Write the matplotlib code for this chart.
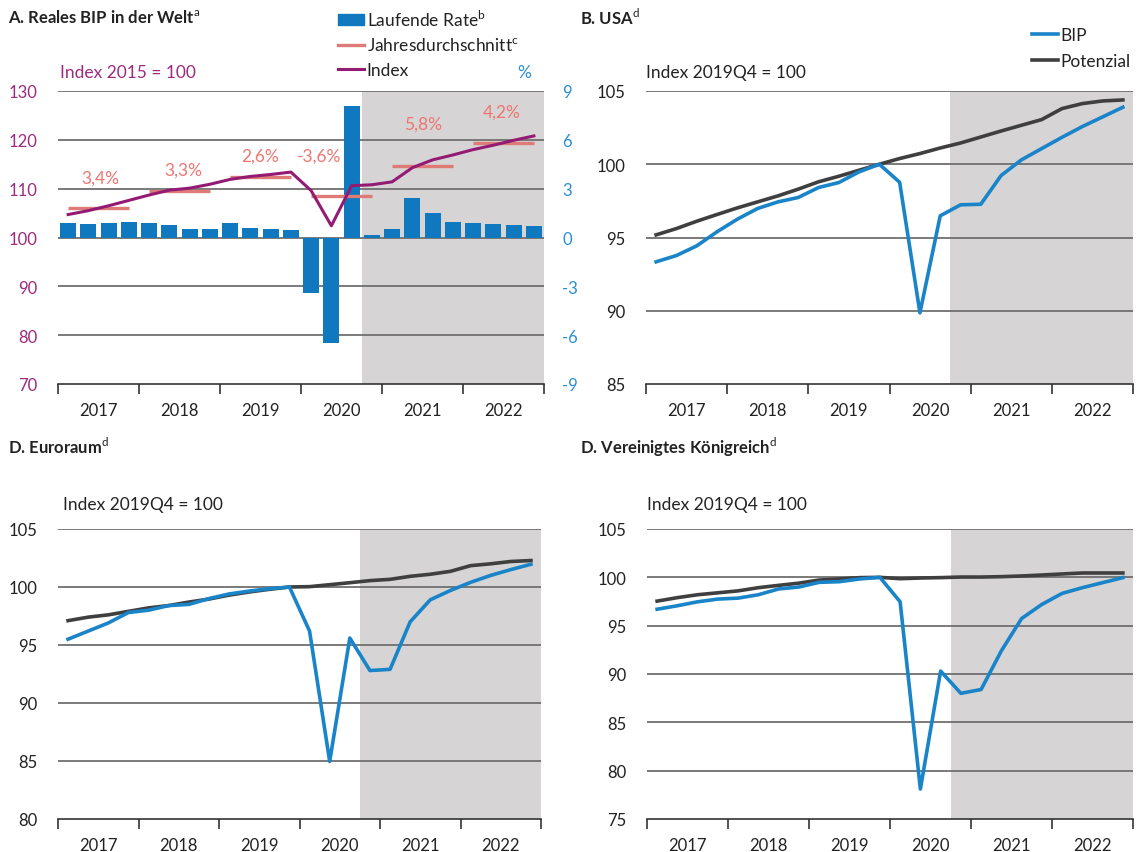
import numpy as np
import matplotlib.pyplot as plt
from matplotlib.patches import Patch
from matplotlib.lines import Line2D

plt.rcParams['font.family'] = ['Lato', 'DejaVu Sans']
plt.rcParams['font.size'] = 12
plt.rcParams['axes.unicode_minus'] = False
plt.rcParams['mathtext.fontset'] = 'custom'
plt.rcParams['mathtext.rm'] = 'Lato'

# quarters 2017Q1 .. 2022Q4
years = ['2017', '2018', '2019', '2020', '2021', '2022']
q = np.arange(24)

# A. world GDP
welt_rate = [0.88, 0.82, 0.88, 0.94, 0.88, 0.76, 0.51, 0.51, 0.88, 0.57, 0.51, 0.45,
             -3.4, -6.5, 8.1, 0.16, 0.51, 2.41, 1.49, 0.94, 0.88, 0.82, 0.76, 0.69]
welt_index = [104.7, 105.5, 106.5, 107.6, 108.7, 109.7, 110.1, 110.9, 111.9, 112.5, 112.9, 113.4,
              109.6, 102.4, 110.6, 110.8, 111.4, 114.3, 115.9, 116.9, 118.0, 118.9, 119.9, 120.8]
welt_avg = [106.1, 109.5, 112.4, 108.4, 114.7, 119.4]
welt_avg_labels = ['3,4%', '3,3%', '2,6%', '-3,6%', '5,8%', '4,2%']

# B. USA
usa_bip = [93.34, 93.77, 94.43, 95.39, 96.25, 96.98, 97.43, 97.73, 98.41, 98.75, 99.48, 100.0,
           98.77, 89.86, 96.48, 97.23, 97.27, 99.23, 100.3, 101.07, 101.84, 102.57, 103.23, 103.89]
usa_pot = [95.18, 95.61, 96.11, 96.57, 97.02, 97.43, 97.84, 98.30, 98.80, 99.18, 99.59, 100.0,
           100.39, 100.73, 101.11, 101.45, 101.86, 102.27, 102.66, 103.05, 103.80, 104.14, 104.32, 104.39]

# C. euro area
eur_bip = [95.5, 96.2, 96.9, 97.8, 98.0, 98.4, 98.5, 99.0, 99.4, 99.65, 99.85, 100.0,
           96.2, 84.96, 95.6, 92.8, 92.9, 97.0, 98.9, 99.7, 100.4, 101.0, 101.5, 101.96]
eur_pot = [97.1, 97.4, 97.6, 97.9, 98.2, 98.4, 98.7, 98.96, 99.3, 99.57, 99.8, 100.0,
           100.03, 100.2, 100.37, 100.55, 100.66, 100.92, 101.1, 101.35, 101.84, 102.0, 102.2, 102.28]

# D. United Kingdom
uk_bip = [96.7, 97.06, 97.47, 97.75, 97.85, 98.2, 98.8, 99.0, 99.48, 99.55, 99.83, 100.0,
          97.47, 78.1, 90.3, 88.0, 88.4, 92.4, 95.74, 97.2, 98.34, 98.93, 99.45, 99.97]
uk_pot = [97.54, 97.9, 98.2, 98.4, 98.6, 98.93, 99.17, 99.4, 99.72, 99.83, 99.97, 100.0,
          99.86, 99.93, 99.97, 100.03, 100.03, 100.07, 100.14, 100.24, 100.35, 100.45, 100.45, 100.45]

BLUE_BAR = '#0F78BF'
BLUE = '#1A84C9'
GREY = '#3F3F40'
PURPLE = '#931B73'
SALMON = '#DE7B77'
SALMON_TXT = '#EE7672'
SHADE = '#D6D4D5'
GRID = '#707070'
W, H = 1148, 853


def base_axes(ax, ylim, yticks):
    ax.set_xlim(-0.5, 23.5)
    ax.set_ylim(*ylim)
    ax.set_yticks(yticks)
    for s in ['top', 'right', 'left']:
        ax.spines[s].set_visible(False)
    ax.spines['bottom'].set_color('#333333')
    ax.spines['bottom'].set_linewidth(1.2)
    ax.set_xticks(np.arange(-0.5, 24, 4))
    ax.set_xticklabels([])
    ax.set_xticks(np.arange(1.5, 24, 4), minor=True)
    ax.set_xticklabels(years, minor=True)
    ax.tick_params(axis='x', which='major', length=7, width=1.2, color='#333333', direction='out')
    ax.tick_params(axis='x', which='minor', length=0, pad=13, labelsize=12, labelcolor='#222222')
    ax.tick_params(axis='y', length=0, pad=15, labelsize=12, labelcolor='#222222')


def grid_and_shade(ax, yticks):
    ax.axvspan(14.5, 23.5, color=SHADE, zorder=0, lw=0)
    for y in yticks[1:]:
        ax.axhline(y, color=GRID, lw=1.3, zorder=1)


fig = plt.figure(figsize=(W / 100, H / 100), dpi=100)

# ---------------- A ----------------
axA = fig.add_axes([58 / W, 1 - 385 / H, 486 / W, 293 / H])
axR = axA.twinx()
yl = np.arange(70, 131, 10)
base_axes(axA, (70, 130), yl)
axA.tick_params(axis='y', labelcolor='#9C2B7E')
axR.set_ylim(-9, 9)
axR.set_yticks(np.arange(-9, 10, 3))
for s in axR.spines.values():
    s.set_visible(False)
axR.tick_params(axis='y', length=0, pad=13, labelsize=12, labelcolor='#2B8FD2')
grid_and_shade(axR, np.arange(-9, 10, 3))
axR.bar(q, welt_rate, width=0.78, color=BLUE_BAR, zorder=2)
axA.set_zorder(axR.get_zorder() + 1)
axA.patch.set_visible(False)

axA.plot(q, welt_index, color=PURPLE, lw=2.2, zorder=4)
label_dx = [0.1, 0.2, 0.0, -1.1, 0.05, -0.1]
label_dy = [6.1, 4.4, 4.3, 8.3, 8.7, 6.3]
for k, v in enumerate(welt_avg):
    axA.plot([4 * k, 4 * k + 3], [v, v], color=SALMON, lw=2.4, zorder=3, solid_capstyle='butt')
    axA.text(4 * k + 1.5 + label_dx[k], v + label_dy[k], welt_avg_labels[k], color=SALMON_TXT,
             fontsize=12.5, ha='center', va='center')
axA.text(0.004, 1.065, 'Index 2015 = 100', transform=axA.transAxes, color='#9C2B7E',
         fontsize=12.5, va='center', ha='left')
axA.text(0.96, 1.065, '%', transform=axA.transAxes, color='#2B8FD2', fontsize=12.5,
         va='center', ha='center')

fig.text(8 / W, 1 - 18 / H, r'A. Reales BIP in der Welt$^\mathrm{a}$', fontsize=12,
         fontweight='bold', va='center', color='#222222')
legA = fig.legend([Patch(color=BLUE_BAR), Line2D([], [], color=SALMON, lw=2.4),
                   Line2D([], [], color=PURPLE, lw=2.2)],
                  [r'Laufende Rate$^\mathrm{b}$', r'Jahresdurchschnitt$^\mathrm{c}$', 'Index'],
                  loc='upper left', bbox_to_anchor=(338 / W, 1 - 10 / H), frameon=False,
                  handlelength=1.5, handleheight=0.6, handletextpad=0.15, labelspacing=0.45,
                  borderpad=0, borderaxespad=0, fontsize=12.5)
for t in legA.get_texts():
    t.set_color('#222222')

# ---------------- B, C, D ----------------
panels = [
    (r'B. USA$^\mathrm{d}$', [646 / W, 1 - 385 / H, 487 / W, 293 / H], (85, 105), usa_bip, usa_pot,
     (580, 18), (0.0, 1.065)),
    (r'D. Euroraum$^\mathrm{d}$', [58 / W, 1 - 820 / H, 483 / W, 290 / H], (80, 105), eur_bip,
     eur_pot, (8, 447), (0.01, 1.086)),
    (r'D. Vereinigtes Königreich$^\mathrm{d}$', [647 / W, 1 - 820 / H, 486 / W, 290 / H], (75, 105),
     uk_bip, uk_pot, (580, 447), (0.0, 1.086)),
]
for title, rect, ylim, bip, pot, tpos, ipos in panels:
    ax = fig.add_axes(rect)
    ticks = np.arange(ylim[0], ylim[1] + 1, 5)
    base_axes(ax, ylim, ticks)
    grid_and_shade(ax, ticks)
    ax.plot(q, pot, color=GREY, lw=2.6, zorder=3)
    ax.plot(q, bip, color=BLUE, lw=2.6, zorder=4)
    ax.text(ipos[0], ipos[1], 'Index 2019Q4 = 100', transform=ax.transAxes, color='#222222',
            fontsize=12.5, va='center', ha='left')
    fig.text(tpos[0] / W, 1 - tpos[1] / H, title, fontsize=12, fontweight='bold', va='center',
             color='#222222')

legB = fig.legend([Line2D([], [], color=BLUE, lw=2.6), Line2D([], [], color=GREY, lw=2.6)],
                  ['BIP', 'Potenzial'], loc='upper left', bbox_to_anchor=(1032 / W, 1 - 28 / H),
                  frameon=False, handlelength=1.5, handletextpad=0.15, labelspacing=0.6,
                  borderpad=0, borderaxespad=0, fontsize=12.5)
for t in legB.get_texts():
    t.set_color('#222222')

fig.savefig('out.png', dpi=100)
